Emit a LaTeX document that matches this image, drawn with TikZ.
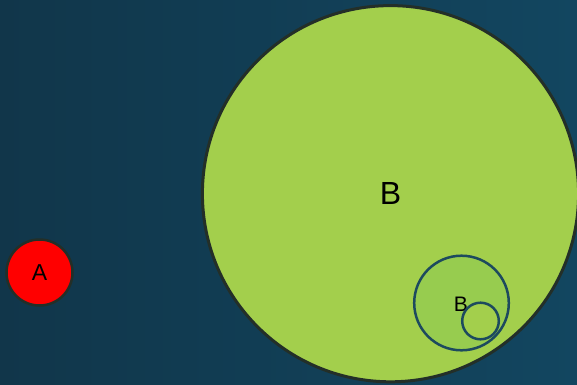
\documentclass[tikz,border=0pt]{standalone}
\usepackage{fontspec}
\setmainfont{Liberation Sans}
\usepackage{tkz-euclide}
\definecolor{BackLeft}{HTML}{11364A}
\definecolor{BackRight}{HTML}{124660}
\definecolor{BigClr}{HTML}{A3CF4C}
\definecolor{MidClr}{HTML}{97CC4F}
\definecolor{RimClr}{HTML}{232F28}
\definecolor{RingClr}{HTML}{1D4A5E}
\definecolor{RedClr}{HTML}{FF0000}

\begin{document}
\begin{tikzpicture}[x=1pt,y=1pt,
  disk/.style={circle,inner sep=0pt,outer sep=0pt,text=black}]
\useasboundingbox (0,0) rectangle (577,384);
\clip (0,0) rectangle (577,384);
\fill[left color=BackLeft,right color=BackRight] (0,0) rectangle (577,384);

\tkzDefPoints{39.5/111.5/A,390.5/190.3/B,461.5/81/C,480.5/63/D}

\node[disk,draw=RimClr,line width=3pt,fill=BigClr,minimum size=376.2pt,
  font=\fontsize{32}{38}\selectfont] (bigB) at (B) {B};
\node[disk,draw=RimClr,line width=2.5pt,fill=RedClr,minimum size=66pt,
  font=\fontsize{23}{28}\selectfont] (redA) at (A) {A};

\node[disk,draw=RingClr,line width=2.5pt,fill=MidClr,minimum size=94.6pt] (midB) at (C) {};
\node[font=\fontsize{21}{25}\selectfont,inner sep=0pt] (midBtxt) at (460.8,79.8) {B};
\node[disk,draw=RingClr,line width=2.5pt,fill=BigClr,minimum size=36.6pt] (tinyB) at (D) {};

\end{tikzpicture}
\end{document}
